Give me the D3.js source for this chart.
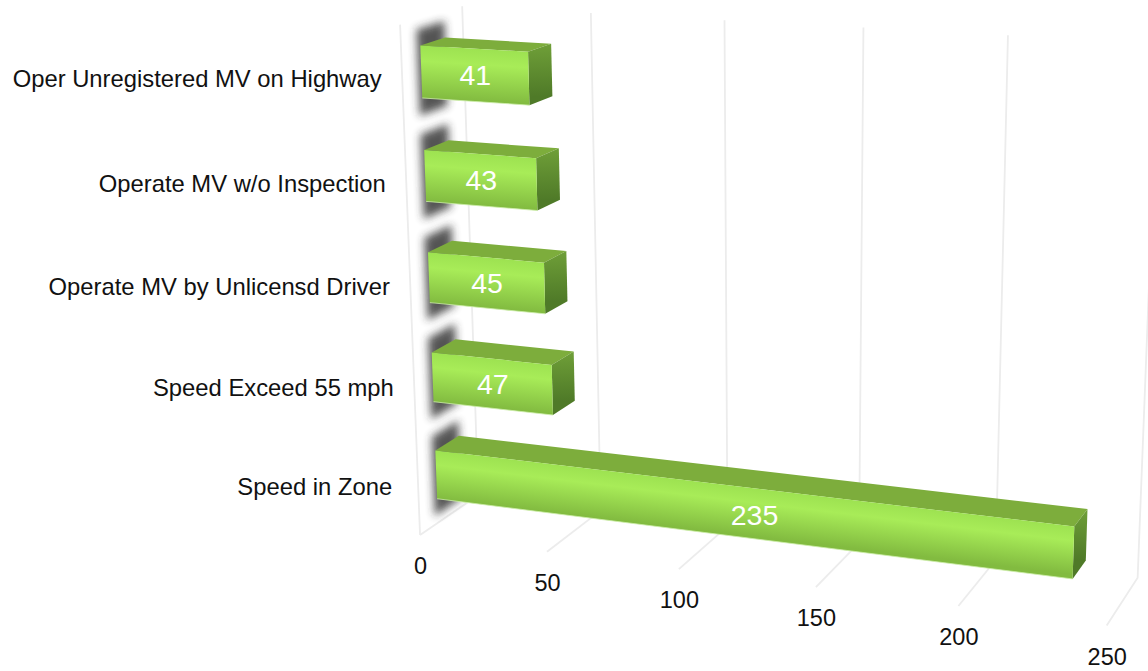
<!DOCTYPE html>
<html><head><meta charset="utf-8">
<script src="https://cdn.jsdelivr.net/npm/d3@7/dist/d3.min.js"></script>
<style>html,body{margin:0;background:#fff}svg{display:block}text{font-family:"Liberation Sans",Arial,sans-serif}</style>
</head><body><svg id="c" width="1148" height="671"></svg>
<script>
const categories = ["Oper Unregistered MV on Highway","Operate MV w/o Inspection","Operate MV by Unlicensd Driver","Speed Exceed 55 mph","Speed in Zone"];
const values = [41,43,45,47,235];
const tickValues = [0,50,100,150,200,250];

// camera calibration: box coordinates (x value share, y depth, z height) -> pixels
const calib = [
 [0,0,0,421,535],[0,0,1,400,24],[.2,0,0,547,552],[.4,0,0,679,569],[.6,0,0,815,587],[.8,0,0,958,606],[1,0,0,1107,626],
 [0,1,1,462,7],[.2,1,1,591,13],[.4,1,1,725,20],[.6,1,1,863,28],[.8,1,1,1008,35],
 [0,1,0,477,494],[.2,1,0,601,512],[.8,1,0,997,560],[1,1,0,1137,577]
];
function solve(A,b){const n=b.length,M=A.map((r,i)=>[...r,b[i]]);
 for(let i=0;i<n;i++){let p=i;for(let k=i+1;k<n;k++)if(Math.abs(M[k][i])>Math.abs(M[p][i]))p=k;[M[i],M[p]]=[M[p],M[i]];
  for(let k=0;k<n;k++)if(k!==i){const f=M[k][i]/M[i][i];for(let j=i;j<=n;j++)M[k][j]-=f*M[i][j];}}
 return M.map((r,i)=>r[n]/r[i]);}
function fit(pts){const rows=[],rhs=[];
 pts.forEach(([X,Y,Z,sx,sy])=>{const u=sx/1000,v=sy/1000;
  rows.push([1,X,Y,Z,0,0,0,0,-u*X,-u*Y,-u*Z]);rhs.push(u);
  rows.push([0,0,0,0,1,X,Y,Z,-v*X,-v*Y,-v*Z]);rhs.push(v);});
 const N=d3.range(11).map(i=>d3.range(11).map(j=>d3.sum(rows,r=>r[i]*r[j])));
 const B=d3.range(11).map(i=>d3.sum(rows,(r,k)=>r[i]*rhs[k]));
 return solve(N,B);}
const m=fit(calib);
const project=(X,Y,Z)=>{const w=1+m[8]*X+m[9]*Y+m[10]*Z;
 return [1000*(m[0]+m[1]*X+m[2]*Y+m[3]*Z)/w,1000*(m[4]+m[5]*X+m[6]*Y+m[7]*Z)/w];};

const xScale=d3.scaleLinear().domain([0,250]).range([0,1]);
const zScale=d3.scaleBand().domain(categories.slice().reverse()).range([0,1]).paddingInner(.5).paddingOuter(.25);
const yFront=.3,yBack=.7;

const svg=d3.select("#c"),defs=svg.append("defs");
defs.append("filter").attr("id","blur").attr("x","-60%").attr("y","-60%").attr("width","220%").attr("height","220%")
 .append("feGaussianBlur").attr("stdDeviation",4.5);
const line=d3.line();
const poly=p=>line(p)+"Z";

// grid
const grid=svg.append("g").attr("fill","none").attr("stroke","#ececec").attr("stroke-width",1.8);
tickValues.forEach(t=>{const X=xScale(t);
 grid.append("path").attr("d",line([project(X,0,0),project(X,1,0),project(X,1,1)]));
 if(t===0)grid.append("path").attr("d",line([project(X,0,0),project(X,0,1)]));
});
// tick labels
svg.append("g").selectAll("text").data(tickValues).join("text")
 .attr("x",d=>project(xScale(d),0,0)[0]+.5).attr("y",d=>project(xScale(d),0,0)[1]+39)
 .attr("text-anchor","middle").attr("font-size",23.5).attr("fill","#111").text(d=>d);

// category labels
svg.append("g").selectAll("text").data(categories).join("text")
 .attr("x",(d,i)=>project(0,0,zScale(d)+zScale.bandwidth()/2)[0]-(i===4?26:20.5))
 .attr("y",d=>project(0,0,zScale(d)+zScale.bandwidth()/2)[1]+8.5)
 .attr("text-anchor","end").attr("font-size",23.8).attr("fill","#111").text(d=>d);

// bars
const rows=categories.map((c,i)=>({c,v:values[i],i}));
rows.forEach(r=>{
 const z0=zScale(r.c),z1=z0+zScale.bandwidth(),X=xScale(r.v);
 // wall shadow
 const pad=.032;
 svg.append("path").attr("d",poly([project(0,.25,z0-pad),project(0,.7,z0-pad),project(0,.7,z1+pad),project(0,.25,z1+pad)]))
  .attr("fill","#2c2c2c").attr("filter","url(#blur)").attr("opacity",.8);
 const ftl=project(0,yFront,z1),ftr=project(X,yFront,z1),fbr=project(X,yFront,z0),fbl=project(0,yFront,z0),
       btl=project(0,yBack,z1),btr=project(X,yBack,z1),bbr=project(X,yBack,z0);
 // gradients follow the face's own tilt
 const dx=ftr[0]-ftl[0],dy=ftr[1]-ftl[1],len=Math.hypot(dx,dy),nx=-dy/len,ny=dx/len;
 const h=(fbl[0]-ftl[0])*nx+(fbl[1]-ftl[1])*ny;
 const g=defs.append("linearGradient").attr("id","f"+r.i).attr("gradientUnits","userSpaceOnUse")
  .attr("x1",ftl[0]).attr("y1",ftl[1]).attr("x2",ftl[0]+nx*h).attr("y2",ftl[1]+ny*h);
 [[0,"#9de251"],[.3,"#a8ec58"],[1,"#82bb40"]].forEach(s=>g.append("stop").attr("offset",s[0]).attr("stop-color",s[1]));
 const gs=defs.append("linearGradient").attr("id","s"+r.i).attr("gradientUnits","userSpaceOnUse")
  .attr("x1",btr[0]).attr("y1",btr[1]).attr("x2",bbr[0]).attr("y2",bbr[1]);
 [[0,"#6f9f38"],[1,"#4f7a28"]].forEach(s=>gs.append("stop").attr("offset",s[0]).attr("stop-color",s[1]));
 svg.append("path").attr("d",poly([ftl,btl,btr,ftr])).attr("fill","#7dad3c");
 svg.append("path").attr("d",poly([ftr,btr,bbr,fbr])).attr("fill",`url(#s${r.i})`);
 svg.append("path").attr("d",poly([ftl,ftr,fbr,fbl])).attr("fill",`url(#f${r.i})`);
 svg.append("path").attr("d",line([fbl,fbr])).attr("stroke","#cdeeaa").attr("stroke-width",.8).attr("fill","none");
 svg.append("text").attr("x",(ftl[0]+fbr[0])/2+.5).attr("y",(ftl[1]+fbr[1])/2+10)
  .attr("text-anchor","middle").attr("font-size",28.5).attr("fill","#fff").text(r.v);
});
</script></body></html>
